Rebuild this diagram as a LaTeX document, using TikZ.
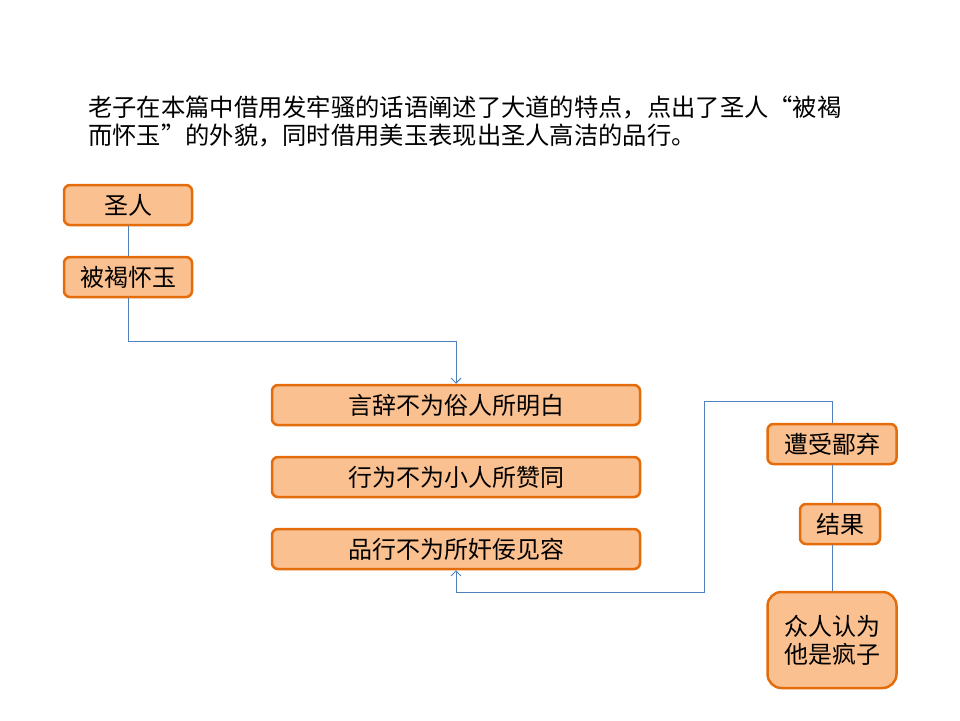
\documentclass[tikz,border=0pt]{standalone}
\usepackage{fontspec}
\setmainfont{Noto Sans CJK SC}
\usetikzlibrary{arrows.meta}
\definecolor{boxfill}{HTML}{FAC090}
\definecolor{boxline}{HTML}{E46C0A}
\definecolor{linkblue}{HTML}{4F81BD}
\tikzset{
	box/.style={draw=boxline,fill=boxfill,line width=2.5pt,rounded corners=6pt,inner sep=0pt,minimum height=40pt,font=\fontsize{24}{28}\selectfont},
	link/.style={draw=linkblue,line width=1pt,>={Straight Barb[length=5pt,width=10pt]}},
}
\begin{document}
\begin{tikzpicture}[x=1pt,y=-1pt]
		\useasboundingbox (0,0) rectangle (960,720);
		\node[anchor=north west,align=left,inner sep=0pt,font=\fontsize{24.3}{28}\selectfont] (t) at (88,96) {老子在本篇中借用发牢骚的话语阐述了大道的特点，点出了圣人“被褐\\而怀玉”的外貌，同时借用美玉表现出圣人高洁的品行。};
		\node[box,minimum width=128pt] (1) at (128,205) {圣人};
		\node[box,minimum width=128pt] (2) at (128,277) {被褐怀玉};
		\node[box,minimum width=368pt] (3) at (456,405) {言辞不为俗人所明白};
		\node[box,minimum width=368pt] (4) at (456,477) {行为不为小人所赞同};
		\node[box,minimum width=368pt] (5) at (456,549) {品行不为所奸佞见容};
		\node[box,minimum width=129pt] (6) at (832,444) {遭受鄙弃};
		\node[box,minimum width=80pt] (7) at (840,524) {结果};
		\node[box,minimum width=129pt,minimum height=96pt,rounded corners=14pt,align=center] (8) at (832,640) {众人认为\\他是疯子};
		\coordinate (c1) at (456,341);
		\coordinate (c2) at (704,401);
		\coordinate (c3) at (704,592);
		\draw[link] (1) -- (2);
		\draw[link,->] (2) |- (c1) -- (3);
		\draw[link] (8) -- (8 |- 7.south);
		\draw[link] (7.north -| 6) -- (6);
		\draw[link,->] (6) |- (c2) -- (c3) -| (5);
	\end{tikzpicture}
\end{document}
